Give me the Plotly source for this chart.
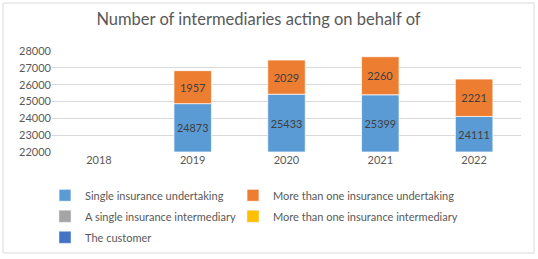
import plotly.graph_objects as go

years = ["2018", "2019", "2020", "2021", "2022"]
single_undertaking = [None, 24873, 25433, 25399, 24111]
multi_undertaking = [None, 1957, 2029, 2260, 2221]
single_intermediary = [None, None, None, None, None]
multi_intermediary = [None, None, None, None, None]
customer = [None, None, None, None, None]

y_min, y_max = 22000, 28000
font = "Lato, 'Open Sans', sans-serif"
grey_text = "#595959"
label_col = "#404040"
edge = dict(color="rgba(255,255,255,0.7)", width=1)


def shift(vals, by):
    return [None if v is None else v - by for v in vals]


fig = go.Figure()

# visible bottom of the stack starts at the axis minimum so labels sit in the middle
fig.add_trace(go.Bar(
    x=years, y=shift(single_undertaking, y_min), base=y_min,
    name="Single insurance undertaking", legend="legend", legendgroup="a",
    marker=dict(color="#5B9BD5", line=edge),
    text=[v if v is not None else "" for v in single_undertaking],
    textposition="inside", insidetextanchor="middle", textangle=0,
    textfont=dict(family=font, size=11, color=label_col),
    hoverinfo="skip",
))
fig.add_trace(go.Bar(
    x=years, y=multi_undertaking,
    base=[v if v is not None else y_min for v in single_undertaking],
    name="More than one insurance undertaking", legend="legend2", legendgroup="b",
    marker=dict(color="#ED7D31", line=edge),
    text=[v if v is not None else "" for v in multi_undertaking],
    textposition="inside", insidetextanchor="middle", textangle=0,
    textfont=dict(family=font, size=11, color=label_col),
    hoverinfo="skip",
))
fig.add_trace(go.Bar(x=years, y=single_intermediary, name="A single insurance intermediary",
                     legend="legend", legendgroup="c", marker=dict(color="#A5A5A5")))
fig.add_trace(go.Bar(x=years, y=multi_intermediary, name="More than one insurance intermediary",
                     legend="legend2", legendgroup="d", marker=dict(color="#FFC000")))
fig.add_trace(go.Bar(x=years, y=customer, name="The customer",
                     legend="legend", legendgroup="e", marker=dict(color="#4472C4")))

leg = dict(orientation="v", xanchor="left", yanchor="top", y=-0.285,
           tracegroupgap=2, font=dict(family=font, size=11, color=grey_text),
           bgcolor="rgba(0,0,0,0)")

fig.update_layout(
    width=538, height=259,
    margin=dict(l=52, r=17, t=51, b=107, autoexpand=False),
    paper_bgcolor="white", plot_bgcolor="white",
    barmode="overlay", bargap=0.6,
    font=dict(family=font, size=11, color=grey_text),
    title=dict(text="Number of intermediaries acting on behalf of",
               x=0.4805, xanchor="center", xref="container",
               y=1 - 19 / 259, yanchor="middle", yref="container",
               font=dict(family=font, size=16.5, color=grey_text)),
    showlegend=True,
    legend=dict(leg, x=(45 - 52) / 469),
    legend2=dict(leg, x=(233 - 52) / 469),
    shapes=[dict(type="rect", xref="paper", yref="paper",
                 x0=-49 / 469, x1=1 + 13 / 469, y0=-1.0, y1=1 + 48 / 101,
                 line=dict(color="#d9d9d9", width=1), fillcolor="rgba(0,0,0,0)",
                 layer="below")],
)
fig.update_yaxes(range=[y_min, y_max], dtick=1000, tickformat="d", showgrid=True,
                 gridcolor="#d9d9d9", gridwidth=1, zeroline=False, showline=False, ticks="",
                 tickfont=dict(family=font, size=11, color=grey_text))
fig.update_xaxes(type="category", showgrid=False, showline=False, ticks="",
                 tickfont=dict(family=font, size=11, color=grey_text))

# drop the browser's default body margin so the chart sits at the window origin
fig.write_html("out.html", config={"displayModeBar": False},
               post_script="document.body.style.margin='0';")
